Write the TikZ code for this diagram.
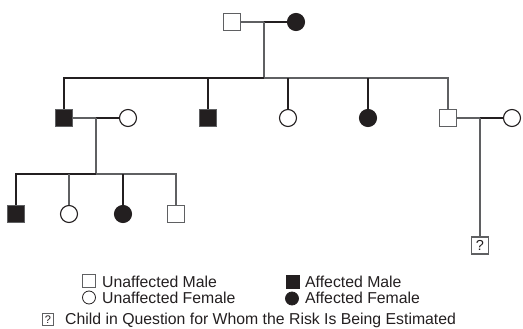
\documentclass[tikz,border=0pt]{standalone}
\usepackage{fontspec}
\setmainfont{Liberation Sans}
\definecolor{ink}{HTML}{231F20}
\definecolor{gr}{HTML}{5F6062}
\begin{document}
\begin{tikzpicture}[x=1pt,y=-1pt,
 male/.style={rectangle,draw=gr,line width=1.1pt,minimum size=17pt,inner sep=0pt,fill=white},
 amale/.style={male,fill=ink},
 female/.style={circle,draw=ink,line width=1.1pt,minimum size=17pt,inner sep=0pt,fill=white},
 afemale/.style={female,fill=ink},
 bl/.style={draw=ink,line width=1.3pt},
 gl/.style={draw=gr,line width=1.1pt},
 lgm/.style={male,minimum size=13pt,line width=0.8pt},
 lgam/.style={lgm,fill=ink,draw=ink},
 lgf/.style={female,minimum size=13pt,line width=0.8pt},
 lgaf/.style={lgf,fill=ink},
 lbl/.style={anchor=base west,inner sep=0pt,font=\fontsize{15.8}{18}\selectfont,text=ink}]
\useasboundingbox (0,0) rectangle (523,329);
% generation I
\node[male] (gf) at (232,22) {};
\node[afemale] (gm) at (296,22) {};
\coordinate (m0) at (264,22);
\coordinate (s0) at (264,78);
% generation II
\node[amale] (a) at (64,118) {};
\node[female] (aw) at (128,118) {};
\node[amale] (b) at (208,118) {};
\node[female] (c) at (288,118) {};
\node[afemale] (d) at (368,118) {};
\node[male] (e) at (448,118) {};
\node[female] (ew) at (512,118) {};
\coordinate (m1) at (96,118);
\coordinate (s1) at (96,174);
\coordinate (m2) at (480,118);
% generation III
\node[amale] (g1) at (16,214) {};
\node[female] (g2) at (69,214) {};
\node[afemale] (g3) at (123,214) {};
\node[male] (g4) at (176,214) {};
\node[male,font=\fontsize{14.5}{14.5}\selectfont,text=ink] (q) at (480,245.5) {?};
% connectors
\draw[gl] (gf) -- (m0);
\draw[bl] (m0) -- (gm);
\draw[gl] (m0) -- (s0);
\draw[bl] (a.north) |- (s0);
\draw[gl] (s0) -| (e.north);
\draw[bl] (b.north) -- (b.north |- s0);
\draw[bl] (c.north) -- (c.north |- s0);
\draw[bl] (d.north) -- (d.north |- s0);
\draw[gl] (a) -- (m1);
\draw[bl] (m1) -- (aw);
\draw[gl] (m1) -- (s1);
\draw[bl] (g1.north) |- (s1);
\draw[gl] (s1) -| (g4.north);
\draw[gl] (g2.north) -- (g2.north |- s1);
\draw[bl] (g3.north) -- (g3.north |- s1);
\draw[gl] (e) -- (m2);
\draw[bl] (m2) -- (ew);
\draw[gl] (m2) -- (q);
% legend
\node[lgm] (l1) at (89,281) {};
\node[lbl] (t1) at (102,287) {Unaffected Male};
\node[lgf] (l2) at (89,297.5) {};
\node[lbl] (t2) at (102,303) {Unaffected Female};
\node[lgam] (l3) at (292.5,282) {};
\node[lbl] (t3) at (305,287) {Affected Male};
\node[lgaf] (l4) at (292,298.5) {};
\node[lbl] (t4) at (305,303) {Affected Female};
\node[male,minimum size=11.5pt,line width=0.8pt,font=\fontsize{11}{11}\selectfont,text=ink] (l5) at (48,319.5) {?};
\node[lbl] (t5) at (65,324.5) {Child in Question for Whom the Risk Is Being Estimated};
\end{tikzpicture}
\end{document}
